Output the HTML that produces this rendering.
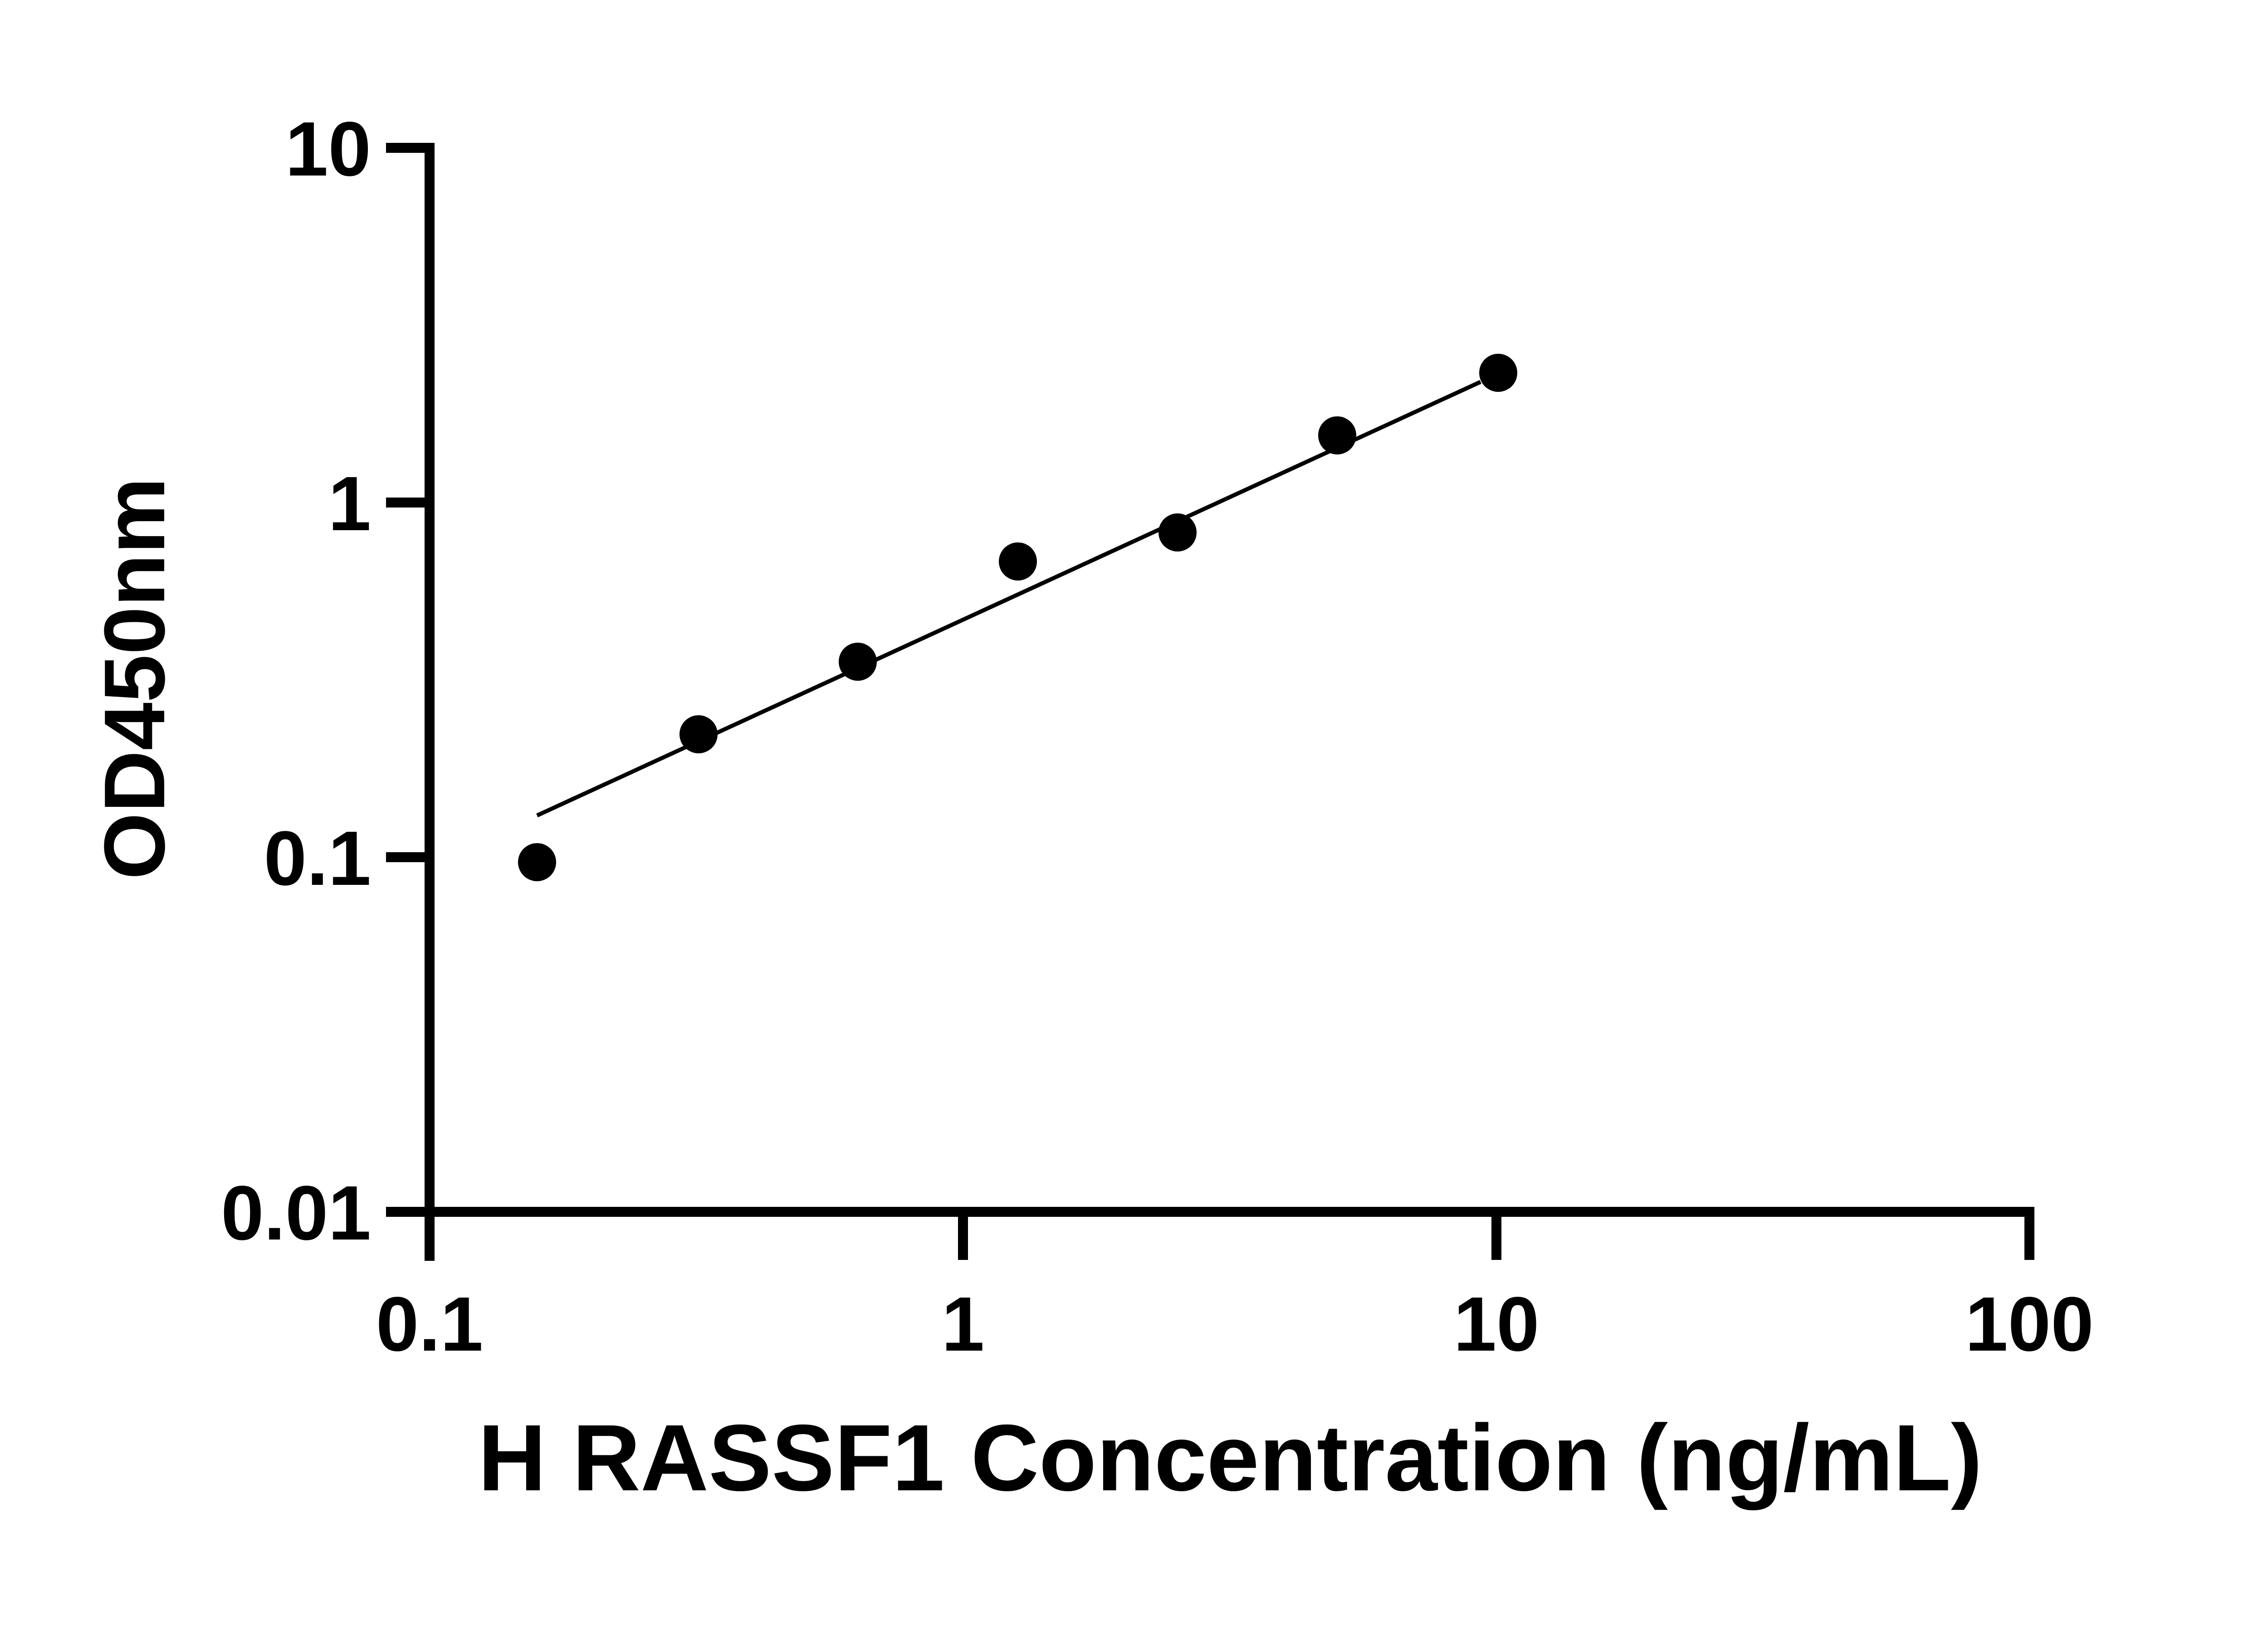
<!DOCTYPE html>
<html><head><meta charset="utf-8"><style>html,body{margin:0;padding:0;background:#fff}</style></head>
<body>
<svg width="5124" height="3600" viewBox="0 0 5124 3600" xmlns="http://www.w3.org/2000/svg" font-family="'Liberation Sans', sans-serif" font-weight="bold">
<rect width="5124" height="3600" fill="#fff"/>
<g stroke="#000" stroke-width="22" fill="none">
<line x1="947" y1="315" x2="947" y2="2780"/>
<line x1="936" y1="2672" x2="4485" y2="2672"/>
<line x1="851" y1="326" x2="958" y2="326"/>
<line x1="851" y1="1108" x2="958" y2="1108"/>
<line x1="851" y1="1890" x2="958" y2="1890"/>
<line x1="851" y1="2672" x2="958" y2="2672"/>
<line x1="2123" y1="2672" x2="2123" y2="2778"/>
<line x1="3299" y1="2672" x2="3299" y2="2778"/>
<line x1="4474" y1="2672" x2="4474" y2="2778"/>
</g>
<g font-size="170" text-anchor="end">
<text x="818" y="387">10</text>
<text x="818" y="1169">1</text>
<text x="818" y="1951">0.1</text>
<text x="818" y="2733">0.01</text>
</g>
<g font-size="170" text-anchor="middle">
<text x="947" y="2978">0.1</text>
<text x="2123" y="2978">1</text>
<text x="3299" y="2978">10</text>
<text x="4474" y="2978">100</text>
</g>
<text x="2712" y="3286" font-size="208" text-anchor="middle">H RASSF1 Concentration (ng/mL)</text>
<text transform="translate(362,1496) rotate(-90)" font-size="190" text-anchor="middle">OD450nm</text>
<line x1="1184" y1="1798" x2="3264" y2="842" stroke="#000" stroke-width="9"/>
<g fill="#000">
<circle cx="1184" cy="1901" r="42"/>
<circle cx="1540" cy="1619" r="42"/>
<circle cx="1891" cy="1459" r="42"/>
<circle cx="2244" cy="1238" r="42"/>
<circle cx="2596" cy="1174" r="42"/>
<circle cx="2948" cy="960" r="42"/>
<circle cx="3303" cy="822" r="42"/>
</g>
</svg>
</body></html>
